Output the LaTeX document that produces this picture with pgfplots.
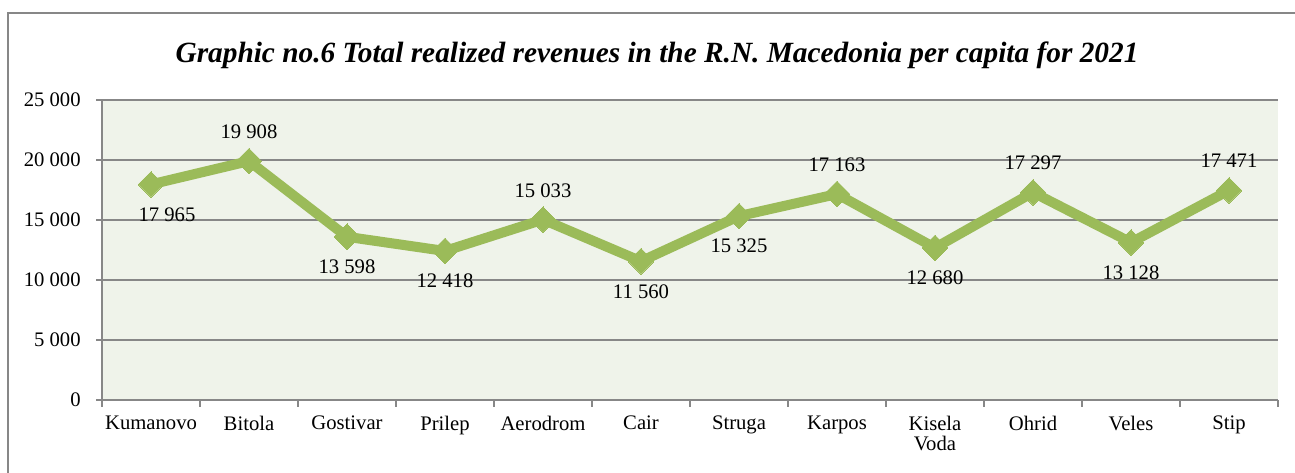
\documentclass[border=0pt]{standalone}
\usepackage{fontspec}
\setmainfont{Liberation Serif}
\usepackage{pgfplots}
\pgfplotsset{compat=1.18}
\definecolor{linegreen}{HTML}{9BBB59}
\definecolor{plotbg}{HTML}{EFF3EA}
\definecolor{gridgray}{HTML}{878787}
\begin{document}
\begin{tikzpicture}
\useasboundingbox (-76.5pt,-54.75pt) rectangle (894.75pt,300pt);
% outer frame (cut off at right and bottom)
\draw[gridgray, line width=1.2pt] (-70.5pt,-70pt) -- (-70.5pt,290.25pt) -- (910pt,290.25pt);
\node[font=\fontsize{22}{26}\selectfont\bfseries\itshape, anchor=base]
  at (416.25pt,253pt) {Graphic no.6 Total realized revenues in the R.N. Macedonia per capita for 2021};
\begin{axis}[
    at={(0pt,0pt)}, anchor=south west,
    scale only axis, width=882pt, height=225pt,
    xmin=-0.5, xmax=11.5, ymin=0, ymax=25000,
    scaled y ticks=false,
    axis x line*=bottom, axis y line*=left,
    axis line style={gridgray, line width=1.2pt},
    axis background/.style={fill=plotbg},
    ymajorgrids, grid style={gridgray, line width=1.2pt},
    ytick={0,5000,10000,15000,20000,25000},
    yticklabels={0,5 000,10 000,15 000,20 000,25 000},
    xtick={0,...,11},
    xticklabels={Kumanovo,Bitola,Gostivar,Prilep,Aerodrom,Cair,Struga,Karpos,{Kisela\\Voda},Ohrid,Veles,Stip},
    minor xtick={-0.5,0.5,...,11.5},
    tick align=outside,
    major x tick style={draw=none},
    tick style={gridgray, line width=1.2pt},
    major tick length=4.5pt, minor tick length=5pt,
    ticklabel style={font=\fontsize{15.5}{15}\selectfont},
    xticklabel style={align=center, yshift=-4pt},
    yticklabel style={xshift=-8pt},
    clip=false,
  ]
  \addplot[linegreen, line width=7.5pt, mark=square*, mark size=6.8pt,
           mark options={rotate=45, fill=linegreen, draw=linegreen, line width=0pt}]
    coordinates {
      (0,17965)(1,19908)(2,13598)(3,12418)(4,15033)(5,11560)
      (6,15325)(7,17163)(8,12680)(9,17297)(10,13128)(11,17471)
    };
  % labels above the points
  \addplot[draw=none, mark=none, point meta=explicit symbolic,
           nodes near coords, nodes near coords align={center},
           every node near coord/.append style={font=\fontsize{15.5}{15}\selectfont, anchor=center, yshift=22pt}]
    coordinates {
      (1,19908)[19 908] (4,15033)[15 033] (7,17163)[17 163] (9,17297)[17 297] (11,17471)[17 471]
    };
  % labels below the points
  \addplot[draw=none, mark=none, point meta=explicit symbolic,
           nodes near coords, nodes near coords align={center},
           every node near coord/.append style={font=\fontsize{15.5}{15}\selectfont, anchor=center, yshift=-22.5pt}]
    coordinates {
      (2,13598)[13 598] (3,12418)[12 418] (5,11560)[11 560] (6,15325)[15 325] (8,12680)[12 680] (10,13128)[13 128]
    };
  \addplot[draw=none, mark=none, point meta=explicit symbolic,
           nodes near coords, nodes near coords align={center},
           every node near coord/.append style={font=\fontsize{15.5}{15}\selectfont, anchor=center, yshift=-23pt, xshift=12pt}]
    coordinates {(0,17965)[17 965]};
\end{axis}
\end{tikzpicture}
\end{document}
